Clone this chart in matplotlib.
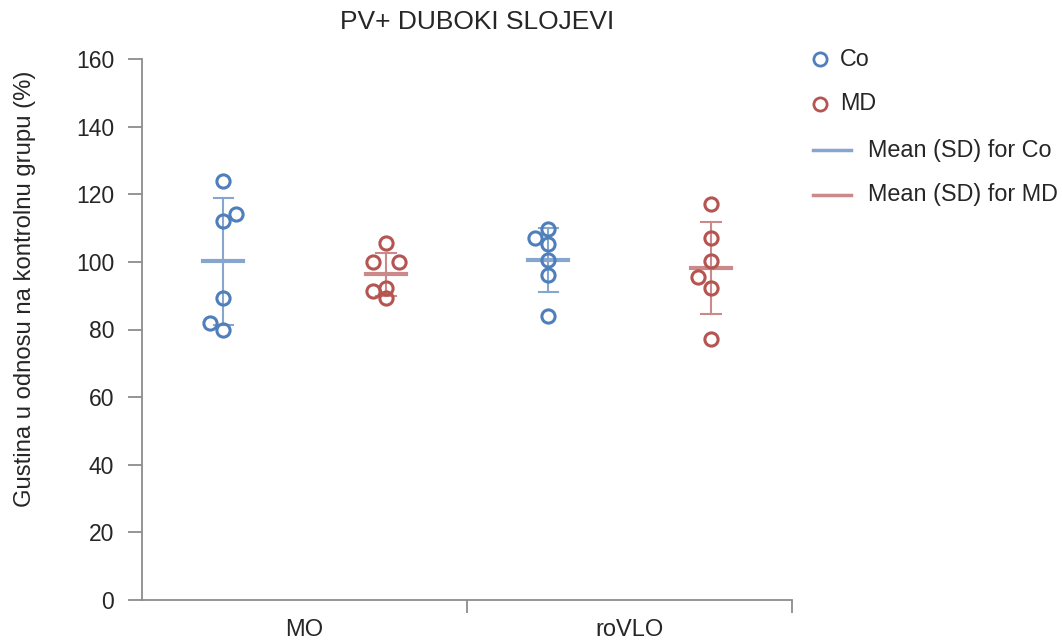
import numpy as np
import matplotlib
matplotlib.use("Agg")
import matplotlib.pyplot as plt
from matplotlib.lines import Line2D

plt.rcParams['font.family'] = ['Liberation Sans', 'DejaVu Sans']

# ---- data ----
categories = ["MO", "roVLO"]
groups = ["Co", "MD"]
co_mo = [124.0, 112.1, 114.1, 89.2, 82.0, 80.0]
md_mo = [105.5, 100.0, 100.0, 91.4, 92.2, 89.2]
co_rovlo = [109.7, 107.2, 105.2, 100.6, 96.2, 84.0]
md_rovlo = [117.2, 107.2, 100.3, 95.4, 92.4, 77.2]
# jitter (fraction of category width)
co_mo_jit = [0, 0, 0.04, 0, -0.04, 0]
md_mo_jit = [0, -0.04, 0.04, -0.04, 0, 0]
co_rovlo_jit = [0, -0.04, 0, 0, 0, 0]
md_rovlo_jit = [0, 0, 0, -0.04, 0, 0]
yticks = [0, 20, 40, 60, 80, 100, 120, 140, 160]
title = "PV+ DUBOKI SLOJEVI"
ylabel = "Gustina u odnosu na kontrolnu grupu (%)"
legend_labels = ["Co", "MD", "Mean (SD) for Co", "Mean (SD) for MD"]

blue = "#4f7fba"
red = "#b55552"
blue_l = "#86a5cf"
red_l = "#cb8a89"
grey = "#8c8c8c"
txt = "#262626"

W, H = 1062, 643
fig = plt.figure(figsize=(W / 100, H / 100), dpi=100)
ax = fig.add_axes([142 / W, 1 - 600 / H, (792 - 142) / W, (600 - 59) / H])

series = [
    (co_mo, co_mo_jit, 0, blue, blue_l),
    (md_mo, md_mo_jit, 0, red, red_l),
    (co_rovlo, co_rovlo_jit, 1, blue, blue_l),
    (md_rovlo, md_rovlo_jit, 1, red, red_l),
]
for i, (vals, jit, ci, col, lcol) in enumerate(series):
    gi = i % 2
    xc = ci + 0.25 + 0.5 * gi
    vals = np.array(vals)
    m = vals.mean()
    sd = vals.std(ddof=1)
    ax.plot([xc, xc], [m - sd, m + sd], color=lcol, lw=1.5, zorder=2)
    for yy in (m - sd, m + sd):
        ax.plot([xc - 0.03, xc + 0.03], [yy, yy], color=lcol, lw=1.5, zorder=2)
    ax.plot([xc - 0.062, xc + 0.062], [m, m], color=lcol, lw=3, zorder=2)
    ax.plot(xc + np.array(jit), vals, linestyle="none", marker="o", ms=9.5,
            mfc="none", mec=col, mew=2.2, zorder=3)

ax.set_xlim(0, 2)
ax.set_ylim(0, 160)
ax.set_yticks(yticks)
ax.set_yticklabels([str(t) for t in yticks])
ax.set_xticks([1, 2])
ax.set_xticklabels(["", ""])
ax.set_xticks([0.5, 1.5], minor=True)
ax.set_xticklabels(categories, minor=True)
ax.tick_params(axis="x", which="minor", length=0, pad=14, labelsize=17, labelcolor=txt)
ax.tick_params(axis="x", which="major", length=9, width=1.3, color=grey)
ax.tick_params(axis="y", length=10, width=1.3, color=grey, pad=10, labelsize=16.5, labelcolor=txt)
for s in ("top", "right"):
    ax.spines[s].set_visible(False)
for s in ("left", "bottom"):
    ax.spines[s].set_color(grey)
    ax.spines[s].set_linewidth(1.3)

fig.text(477.5 / W, 1 - 22 / H, title, ha="center", va="center", fontsize=19, color=txt)
fig.text(25 / W, 1 - 289 / H, ylabel, rotation=90, ha="center", va="center", fontsize=17.2, color=txt)

# legend (manual)
leg_y = [59, 104, 150, 195]
for k, yy in enumerate(leg_y):
    yf = 1 - yy / H
    if k < 2:
        col = blue if k == 0 else red
        fig.add_artist(Line2D([820 / W], [yf], transform=fig.transFigure, marker="o", ms=9.5,
                              mfc="none", mec=col, mew=2, linestyle="none"))
        fig.text(840 / W, yf, legend_labels[k], ha="left", va="center", fontsize=16.8, color=txt)
    else:
        col = blue_l if k == 2 else red_l
        fig.add_artist(Line2D([813 / W, 851 / W], [yf, yf], transform=fig.transFigure, color=col, lw=2.5))
        fig.text(868 / W, yf, legend_labels[k], ha="left", va="center", fontsize=16.8, color=txt)

fig.savefig("out.png", dpi=100)
